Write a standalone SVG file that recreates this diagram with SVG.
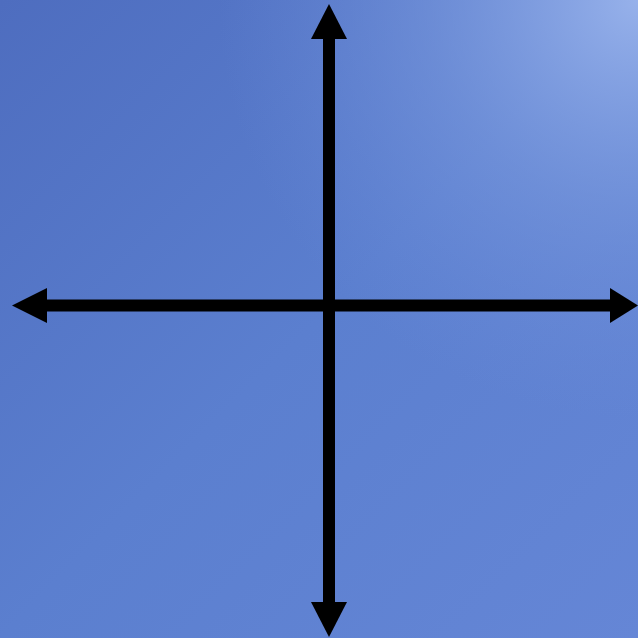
<svg xmlns="http://www.w3.org/2000/svg" width="638" height="638" viewBox="0 0 638 638">
  <defs>
    <linearGradient id="sky" x1="0" y1="0" x2="1" y2="1">
      <stop offset="0" stop-color="#4e6dbf"/>
      <stop offset="0.5" stop-color="#5b7fcf"/>
      <stop offset="1" stop-color="#6586d6"/>
    </linearGradient>
    <radialGradient id="glow" cx="638" cy="0" r="420" gradientUnits="userSpaceOnUse">
      <stop offset="0" stop-color="#9ab4ec" stop-opacity="0.95"/>
      <stop offset="0.5" stop-color="#7f9de0" stop-opacity="0.5"/>
      <stop offset="1" stop-color="#6f8fdc" stop-opacity="0"/>
    </radialGradient>
    <style>
      .shaft { stroke: #000; stroke-width: 12; fill: none; }
      .head { fill: #000; }
    </style>
  </defs>
  <rect x="0" y="0" width="638" height="638" fill="url(#sky)"/>
  <rect x="0" y="0" width="638" height="638" fill="url(#glow)"/>
  <g id="connectors">
    <line class="shaft" x1="329" y1="36" x2="329" y2="604"/>
    <line class="shaft" x1="45" y1="305.5" x2="612" y2="305.5"/>
    <polygon class="head" points="329,4 311,39 347,39"/>
    <polygon class="head" points="329,637 311,602 347,602"/>
    <polygon class="head" points="12,305.5 47,288 47,323"/>
    <polygon class="head" points="638,305.5 610,288 610,323"/>
  </g>
</svg>
